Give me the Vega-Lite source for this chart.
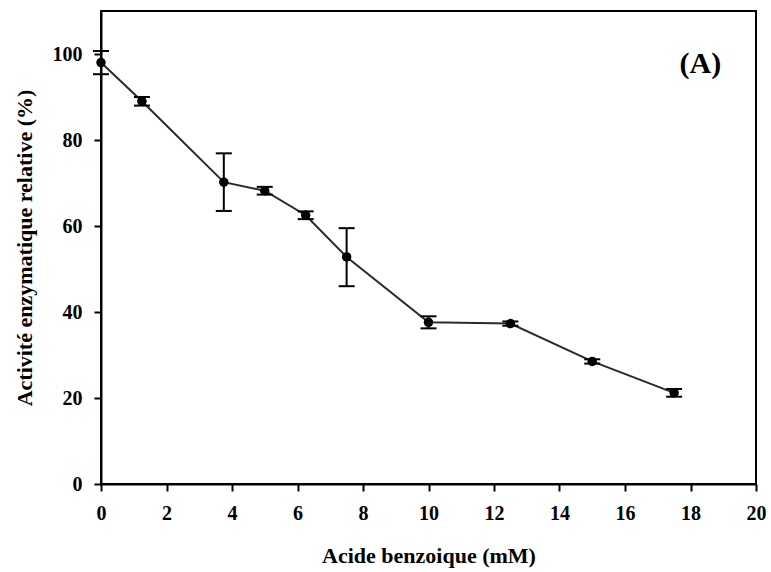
{
  "$schema": "https://vega.github.io/schema/vega-lite/v6.json",
  "width": 655,
  "height": 473,
  "autosize": "none",
  "padding": {"left": 101, "top": 11, "right": 15, "bottom": 88},
  "background": "white",
  "config": {
    "view": {"stroke": "black", "strokeWidth": 2},
    "axis": {
      "labelFont": "Liberation Serif",
      "titleFont": "Liberation Serif",
      "labelFontWeight": "bold",
      "titleFontWeight": "bold",
      "labelFontSize": 20,
      "titleFontSize": 22,
      "labelColor": "black",
      "titleColor": "black",
      "domainColor": "black",
      "domainWidth": 2,
      "tickColor": "black",
      "tickWidth": 2,
      "tickSize": 7,
      "labelFlush": false,
      "grid": false
    }
  },
  "data": {
    "values": [
      {"c": 0, "a": 98, "lo": 95.3, "hi": 100.7},
      {"c": 1.25, "a": 89, "lo": 88, "hi": 90},
      {"c": 3.75, "a": 70.2, "lo": 63.5, "hi": 76.9},
      {"c": 5, "a": 68.2, "lo": 67.3, "hi": 69.1},
      {"c": 6.25, "a": 62.5, "lo": 61.6, "hi": 63.4},
      {"c": 7.5, "a": 52.8, "lo": 46, "hi": 59.5},
      {"c": 10, "a": 37.6, "lo": 36.2, "hi": 39},
      {"c": 12.5, "a": 37.3, "lo": 36.8, "hi": 37.8},
      {"c": 15, "a": 28.5, "lo": 28, "hi": 29},
      {"c": 17.5, "a": 21.2, "lo": 20.3, "hi": 22.1}
    ]
  },
  "layer": [
    {
      "mark": {"type": "line", "color": "#2a2a2a", "strokeWidth": 2},
      "encoding": {
        "x": {"field": "c", "type": "quantitative", "scale": {"domain": [0, 20], "nice": false}, "axis": {"values": [0,2,4,6,8,10,12,14,16,18,20], "title": "Acide benzoique (mM)", "titlePadding": 22, "labelPadding": 12}},
        "y": {"field": "a", "type": "quantitative", "scale": {"domain": [0, 110], "nice": false}, "axis": {"values": [0,20,40,60,80,100], "title": "Activité enzymatique relative (%)", "titlePadding": 16, "labelPadding": 12}}
      }
    },
    {
      "mark": {"type": "rule", "color": "black", "strokeWidth": 2},
      "encoding": {
        "x": {"field": "c", "type": "quantitative"},
        "y": {"field": "lo", "type": "quantitative"},
        "y2": {"field": "hi"}
      }
    },
    {
      "mark": {"type": "tick", "orient": "horizontal", "color": "black", "size": 16, "thickness": 2, "opacity": 1},
      "encoding": {
        "x": {"field": "c", "type": "quantitative"},
        "y": {"field": "lo", "type": "quantitative"}
      }
    },
    {
      "mark": {"type": "tick", "orient": "horizontal", "color": "black", "size": 16, "thickness": 2, "opacity": 1},
      "encoding": {
        "x": {"field": "c", "type": "quantitative"},
        "y": {"field": "hi", "type": "quantitative"}
      }
    },
    {
      "mark": {"type": "point", "filled": true, "color": "black", "size": 90, "opacity": 1},
      "encoding": {
        "x": {"field": "c", "type": "quantitative"},
        "y": {"field": "a", "type": "quantitative"}
      }
    },
    {
      "data": {"values": [{"c": 18.3, "a": 97.7, "t": "(A)"}]},
      "mark": {"type": "text", "font": "Liberation Serif", "fontWeight": "bold", "fontSize": 30, "color": "black", "baseline": "middle", "align": "center"},
      "encoding": {
        "x": {"field": "c", "type": "quantitative"},
        "y": {"field": "a", "type": "quantitative"},
        "text": {"field": "t"}
      }
    }
  ]
}
